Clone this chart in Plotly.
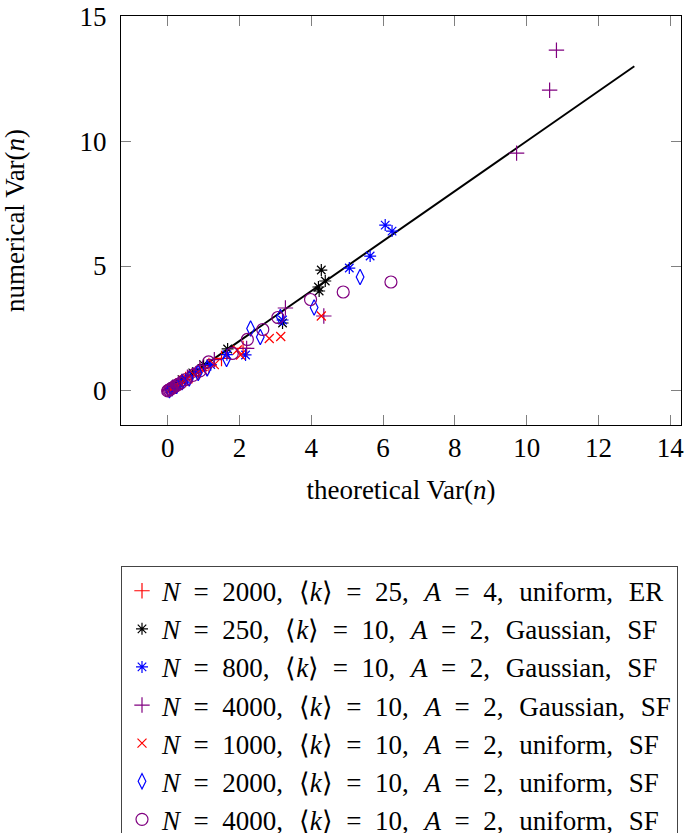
import plotly.graph_objects as go

# ---- data ----
ref_x = [0, 13]
ref_y = [0, 13]

er_x = [0.05, 0.12, 0.22, 0.35, 0.5, 0.68, 0.9, 1.15, 1.5, 2.1]
er_y = [0.05, 0.11, 0.2, 0.33, 0.46, 0.62, 0.82, 1.02, 1.3, 1.7]

g250_x = [0.1, 0.25, 0.4, 0.7, 1.0, 1.67, 3.2, 4.2, 4.22, 4.28, 4.39]
g250_y = [0.1, 0.27, 0.45, 0.72, 1.05, 1.68, 2.72, 4.16, 4.0, 4.84, 4.4]

g800_x = [0.1, 0.3, 0.5, 0.8, 1.2, 1.65, 2.17, 3.2, 5.06, 5.64, 6.06, 6.25]
g800_y = [0.1, 0.3, 0.47, 0.75, 1.05, 1.45, 1.44, 2.84, 4.92, 5.4, 6.64, 6.4]

g4000_x = [0.05, 0.15, 0.3, 0.55, 0.9, 1.3, 2.2, 3.28, 4.35, 9.72, 10.64, 10.83]
g4000_y = [0.05, 0.15, 0.3, 0.55, 0.9, 1.25, 1.7, 3.32, 3.0, 9.52, 12.04, 13.64]

u1000_x = [0.1, 0.2, 0.35, 0.55, 0.75, 1.0, 1.3, 1.94, 2.03, 2.83, 3.15, 4.28]
u1000_y = [0.08, 0.18, 0.3, 0.48, 0.62, 0.8, 1.05, 1.64, 1.44, 2.1, 2.18, 3.0]

u2000_x = [0.05, 0.12, 0.25, 0.4, 0.6, 0.85, 1.1, 1.64, 2.31, 2.58, 3.14, 4.08, 5.36]
u2000_y = [0.03, 0.1, 0.2, 0.35, 0.5, 0.72, 0.9, 1.28, 2.5, 2.16, 2.96, 3.34, 4.56]

u4000_x = [0.0, 0.02, 0.05, 0.08, 0.12, 0.18, 0.25, 0.35, 0.5, 0.7, 0.9, 1.14, 1.8, 2.22, 2.65, 3.07, 3.98, 4.89, 6.22]
u4000_y = [0.0, 0.02, 0.04, 0.07, 0.11, 0.16, 0.22, 0.3, 0.45, 0.62, 0.8, 1.16, 1.5, 2.06, 2.46, 2.94, 3.66, 3.96, 4.36]

S = "\u2002"        # en space, mimics TeX math spacing around '='
C = "\u2002\u200a"  # space after commas
names = [
    f"<i>N</i>{S}={S}2000,{C}⟨<i>k</i>⟩{S}={S}25,{C}<i>A</i>{S}={S}4,{C}uniform,{C}ER",
    f"<i>N</i>{S}={S}250,{C}⟨<i>k</i>⟩{S}={S}10,{C}<i>A</i>{S}={S}2,{C}Gaussian,{C}SF",
    f"<i>N</i>{S}={S}800,{C}⟨<i>k</i>⟩{S}={S}10,{C}<i>A</i>{S}={S}2,{C}Gaussian,{C}SF",
    f"<i>N</i>{S}={S}4000,{C}⟨<i>k</i>⟩{S}={S}10,{C}<i>A</i>{S}={S}2,{C}Gaussian,{C}SF",
    f"<i>N</i>{S}={S}1000,{C}⟨<i>k</i>⟩{S}={S}10,{C}<i>A</i>{S}={S}2,{C}uniform,{C}SF",
    f"<i>N</i>{S}={S}2000,{C}⟨<i>k</i>⟩{S}={S}10,{C}<i>A</i>{S}={S}2,{C}uniform,{C}SF",
    f"<i>N</i>{S}={S}4000,{C}⟨<i>k</i>⟩{S}={S}10,{C}<i>A</i>{S}={S}2,{C}uniform,{C}SF",
]
x_ticks = [0, 2, 4, 6, 8, 10, 12, 14]
y_ticks = [0, 5, 10, 15]

FONT = "Liberation Serif"
RED, BLACK, BLUE, PURPLE = "#ff0000", "#000000", "#0000ff", "#800080"

series = [
    (er_x, er_y, "cross-thin-open", RED, 11),
    (g250_x, g250_y, "asterisk-open", BLACK, 10),
    (g800_x, g800_y, "asterisk-open", BLUE, 10),
    (g4000_x, g4000_y, "cross-thin-open", PURPLE, 11),
    (u1000_x, u1000_y, "x-thin-open", RED, 9),
    (u2000_x, u2000_y, "diamond-tall-open", BLUE, 11),
    (u4000_x, u4000_y, "circle-open", PURPLE, 12),
]

fig = go.Figure()
fig.add_trace(go.Scatter(x=ref_x, y=ref_y, mode="lines",
                         line=dict(color="black", width=2), showlegend=False))
for (xs, ys, sym, col, sz), nm in zip(series, names):
    fig.add_trace(go.Scatter(
        x=xs, y=ys, mode="markers", name=nm,
        marker=dict(symbol=sym, size=sz, color=col, line=dict(color=col, width=1.2)),
    ))

axis_common = dict(
    showgrid=False, zeroline=False, showline=True, linecolor="black", linewidth=1.3,
    mirror="allticks", ticks="inside", ticklen=10, tickcolor="#808080", tickwidth=1,
    tickfont=dict(family=FONT, size=27, color="black"),
)
fig.update_xaxes(range=[-1.3, 14.3], tickvals=x_ticks, ticktext=[str(v) for v in x_ticks],
                 title=dict(text="theoretical Var(<i>n</i>)", font=dict(family=FONT, size=27, color="black"),
                            standoff=18),
                 ticklabelstandoff=-2, **axis_common)
fig.update_yaxes(range=[-1.364, 15.01], tickvals=y_ticks, ticktext=[str(v) for v in y_ticks],
                 title=dict(text="numerical Var(<i>n</i>)", font=dict(family=FONT, size=27, color="black"),
                            standoff=48),
                 ticklabelstandoff=8, **axis_common)

fig.update_layout(
    width=686, height=833,
    margin=dict(l=121, r=5, t=16, b=408, autoexpand=False),
    paper_bgcolor="white", plot_bgcolor="white",
    font=dict(family=FONT, size=27, color="black"),
    legend=dict(x=0.0, y=-0.344, xanchor="left", yanchor="top",
                bordercolor="#444", borderwidth=1, bgcolor="white",
                font=dict(family=FONT, size=27, color="black"),
                itemwidth=30),
)
fig.write_html("out.html", config={"displayModeBar": False},
               post_script="document.body.style.margin='0';document.body.style.overflow='hidden';")
